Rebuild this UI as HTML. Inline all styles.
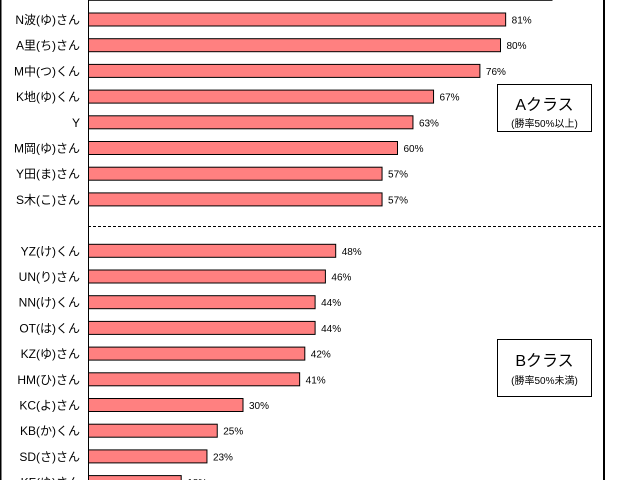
<!DOCTYPE html>
<html><head><meta charset="utf-8">
<style>
html,body{margin:0;padding:0;background:#fff;}
svg{display:block;font-family:"Liberation Sans","Noto Sans CJK JP",sans-serif;}
</style></head>
<body>
<svg id="chart" width="618" height="480" viewBox="0 0 618 480" xmlns="http://www.w3.org/2000/svg">
<rect x="0.5" y="-10" width="603.5" height="500" fill="#fff" stroke="#000" stroke-width="2"/>
<g id="bars"></g>
<line x1="88.5" y1="-10" x2="88.5" y2="490" stroke="#000" stroke-width="1"/>
<line x1="88" y1="226.5" x2="604" y2="226.5" stroke="#000" stroke-width="1" stroke-dasharray="3,2"/>
<g>
<rect x="497.5" y="84.5" width="94" height="47" fill="#fff" stroke="#000"/>
<text x="544.5" y="110" font-size="16" text-anchor="middle">Aクラス</text>
<text x="544.5" y="127" font-size="10" text-anchor="middle">(勝率50%以上)</text>
</g>
<g>
<rect x="497.5" y="339.5" width="94" height="57" fill="#fff" stroke="#000"/>
<text x="544.5" y="366" font-size="16" text-anchor="middle">Bクラス</text>
<text x="544.5" y="384" font-size="10" text-anchor="middle">(勝率50%未満)</text>
</g>
</svg>
<script>
const names = ["", "N波(ゆ)さん","A里(ち)さん","M中(つ)くん","K地(ゆ)くん","Y","M岡(ゆ)さん","Y田(ま)さん","S木(こ)さん",
"YZ(け)くん","UN(り)さん","NN(け)くん","OT(は)くん","KZ(ゆ)さん","HM(ひ)さん","KC(よ)さん","KB(か)くん","SD(さ)さん","KF(ゆ)さん"];
const values = [90,81,80,76,67,63,60,57,57,48,46,44,44,42,41,30,25,23,18];
const slots = [0,1,2,3,4,5,6,7,8,10,11,12,13,14,15,16,17,18,19];
const x0 = 88.5;
const xScale = v => x0 + v * 5.15;
const yScale = s => -6.2 + s * 25.7;
const g = document.getElementById('bars');
const NS = 'http://www.w3.org/2000/svg';
for (let i = 0; i < values.length; i++) {
  const cy = yScale(slots[i]);
  const r = document.createElementNS(NS, 'rect');
  
  
  r.setAttribute('x', x0);
  r.setAttribute('y', cy - 6.5);
  r.setAttribute('width', xScale(values[i]) - x0);
  r.setAttribute('height', 13);
  r.setAttribute('fill', '#ff8080');
  r.setAttribute('stroke', '#000');
  r.setAttribute('stroke-width', '1');
  g.appendChild(r);
  const t = document.createElementNS(NS, 'text');
  
  
  t.setAttribute('x', xScale(values[i]) + 6);
  t.setAttribute('y', cy + 4);
  t.setAttribute('font-size', '10');
  t.textContent = values[i] + '%';
  g.appendChild(t);
  if (names[i]) {
    const n = document.createElementNS(NS, 'text');
    
    
    n.setAttribute('x', 80);
    n.setAttribute('y', cy + 4.5);
    n.setAttribute('font-size', '12');
    n.setAttribute('text-anchor', 'end');
    n.textContent = names[i];
    g.appendChild(n);
  }
}
</script>
</body></html>
